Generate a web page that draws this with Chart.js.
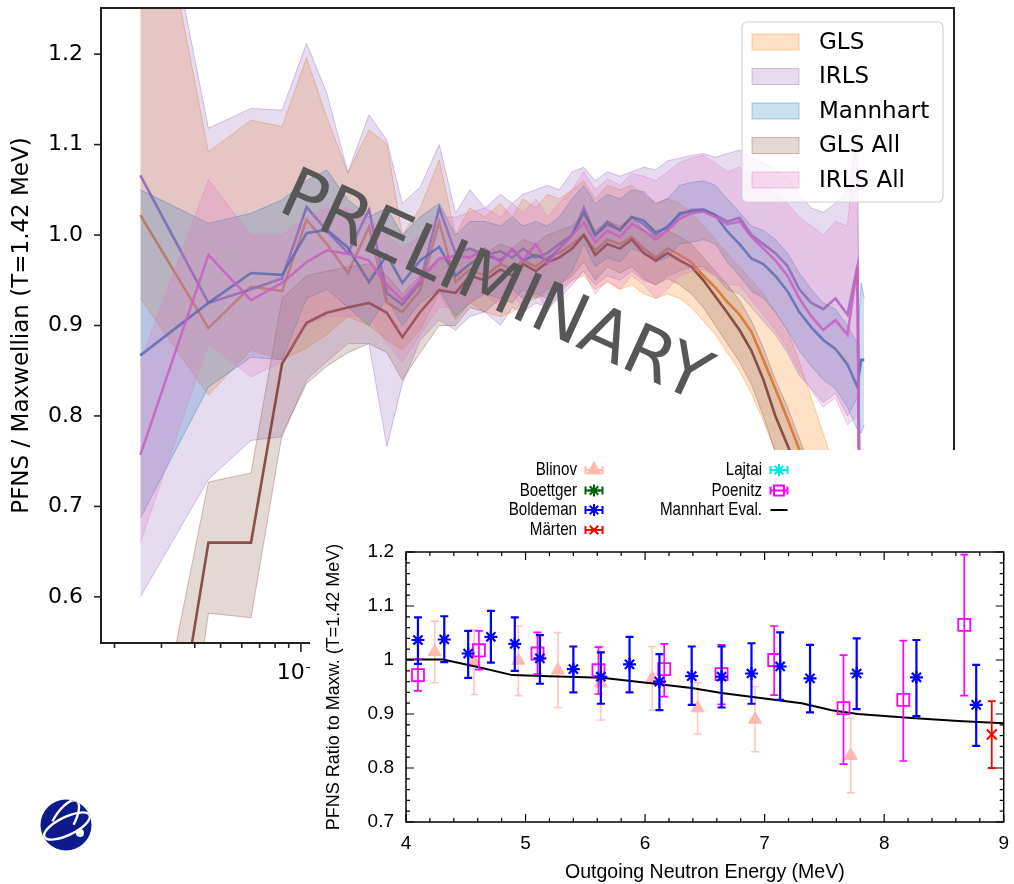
<!DOCTYPE html>
<html>
<head>
<meta charset="utf-8">
<script src="https://cdn.jsdelivr.net/npm/chart.js@4.4.0/dist/chart.umd.min.js"></script>
<style>
  html, body { margin: 0; padding: 0; background: #fff; }
  #wrap { position: relative; width: 1014px; height: 884px; overflow: hidden; }
  #main { position: absolute; left: 0; top: 0; }
  #inset { position: absolute; left: 310px; top: 450px; background: #fff; }
</style>
</head>
<body>
<div id="wrap">
  <canvas id="main" width="1014" height="884"></canvas>
  <canvas id="inset" width="704" height="434"></canvas>
</div>
<script>
// ---- main panel: ratio bands vs energy (MeV, log axis) ----
const energyMeV = [0.025,0.045,0.065,0.085,0.105,0.125,0.15,0.18,0.21,0.24,0.28,0.33,0.38,0.43,0.49,0.56,0.62,0.68,0.76,0.84,0.93,1.04,1.15,1.27,1.41,1.57,1.74,1.93,2.14,2.37,2.63,2.91,3.23,3.58,3.97,4.41,4.89,5.42,6.01,6.67,7.39,8.20,9.09,10.1,11.2,12.2,12.6,12.95];

const glsMid = [1.022,0.897,0.943,0.938,1.017,0.990,0.958,1.009,0.925,0.915, 0.939,1.014,0.948,0.962,0.955,0.968,0.962,0.972,0.965,0.975, 0.980,0.990,1.000,0.983,0.995,0.990,0.998,0.985,0.975,0.985, 0.978,0.970,0.955,0.942,0.926,0.912,0.893,0.862,0.830,0.797, 0.763,0.730,0.690,0.650,0.610,0.580,0.560,0.550];
const glsLo  = [0.930,0.823,0.873,0.862,0.875,0.890,0.910,0.900,0.884,0.873, 0.895,0.936,0.906,0.925,0.915,0.910,0.915,0.925,0.930,0.935, 0.940,0.950,0.955,0.940,0.948,0.940,0.945,0.935,0.930,0.935, 0.930,0.920,0.905,0.890,0.870,0.850,0.825,0.795,0.760,0.725, 0.690,0.655,0.615,0.575,0.535,0.505,0.485,0.475];
const glsHi  = [1.480,1.092,1.127,1.120,1.196,1.130,1.069,1.116,1.101,1.000, 1.030,1.083,1.000,1.030,1.020,1.035,1.020,1.040,1.030,1.045, 1.040,1.050,1.060,1.040,1.055,1.050,1.055,1.045,1.035,1.040, 1.035,1.025,1.010,0.995,0.980,0.965,0.950,0.935,0.915,0.895, 0.860,0.820,0.780,0.740,0.700,0.670,0.650,0.640];

const irlsMid = [1.066,0.925,0.940,0.952,1.031,1.005,0.980,1.028,0.936,0.923, 0.947,1.030,0.980,0.985,0.978,0.982,0.975,0.985,0.975,0.980, 0.990,1.000,1.030,1.000,1.015,1.005,1.020,1.012,1.000,1.010, 1.022,1.028,1.028,1.022,1.015,1.019,1.000,0.990,0.980,0.966, 0.940,0.925,0.918,0.930,0.912,0.965,0.500,0.450];
const irlsLo  = [0.600,0.730,0.773,0.777,0.840,0.860,0.880,0.880,0.766,0.836, 0.884,0.906,0.895,0.910,0.915,0.900,0.920,0.915,0.925,0.920, 0.930,0.945,0.960,0.945,0.955,0.950,0.960,0.950,0.945,0.955, 0.960,0.965,0.965,0.955,0.940,0.935,0.920,0.905,0.890,0.870, 0.845,0.830,0.815,0.825,0.800,0.820,0.400,0.350];
const irlsHi  = [1.500,1.118,1.140,1.138,1.212,1.157,1.069,1.133,1.105,1.035, 1.053,1.100,1.024,1.050,1.030,1.045,1.035,1.045,1.050,1.055, 1.050,1.070,1.075,1.060,1.070,1.065,1.070,1.075,1.072,1.082, 1.085,1.088,1.090,1.086,1.090,1.094,1.085,1.080,1.072,1.065, 1.045,1.030,1.025,1.035,1.050,1.110,0.600,0.550];

const mannMid = [0.867,0.925,0.958,0.956,1.002,1.006,0.986,0.948,0.978,0.947, 0.972,0.987,0.955,0.968,0.978,0.972,0.984,0.972,0.978,0.972, 0.985,1.000,1.025,1.000,1.012,1.006,1.020,1.016,1.003,1.008, 1.024,1.026,1.028,1.022,1.004,0.990,0.974,0.968,0.955,0.938, 0.915,0.898,0.884,0.874,0.857,0.832,0.862,0.862];
const mannLo  = [0.687,0.832,0.865,0.862,0.930,0.940,0.920,0.900,0.930,0.900, 0.925,0.940,0.910,0.925,0.935,0.930,0.940,0.930,0.935,0.930, 0.945,0.960,0.990,0.965,0.975,0.970,0.985,0.980,0.970,0.975, 0.990,0.992,0.995,0.990,0.970,0.955,0.938,0.930,0.915,0.895, 0.872,0.855,0.840,0.830,0.810,0.785,0.781,0.790];
const mannHi  = [1.050,1.013,1.024,1.039,1.060,1.072,1.039,1.020,1.030,1.000, 1.020,1.035,1.000,1.015,1.015,1.010,1.020,1.010,1.015,1.010, 1.020,1.040,1.055,1.035,1.045,1.040,1.050,1.048,1.035,1.040, 1.055,1.058,1.060,1.055,1.040,1.025,1.010,1.005,0.995,0.980, 0.958,0.940,0.925,0.918,0.900,0.880,0.947,0.930];

const glsAllMid = [0.200,0.660,0.660,0.858,0.903,0.914,0.920,0.925,0.914,0.887, 0.915,0.939,0.936,0.955,0.950,0.962,0.955,0.968,0.960,0.970, 0.975,0.985,1.000,0.978,0.990,0.985,0.995,0.980,0.972,0.980, 0.972,0.965,0.950,0.932,0.914,0.895,0.872,0.840,0.800,0.768, 0.735,0.700,0.660,0.620,0.580,0.550,0.530,0.520];
const glsAllLo  = [0.050,0.582,0.577,0.780,0.836,0.855,0.870,0.880,0.870,0.840, 0.870,0.900,0.900,0.920,0.915,0.930,0.925,0.940,0.930,0.940, 0.945,0.955,0.970,0.950,0.965,0.958,0.965,0.952,0.945,0.952, 0.945,0.935,0.920,0.900,0.880,0.860,0.835,0.800,0.760,0.725, 0.690,0.655,0.615,0.575,0.535,0.505,0.485,0.475];
const glsAllHi  = [0.350,0.727,0.737,0.930,0.955,0.960,0.965,0.968,0.955,0.935, 0.955,0.975,0.970,0.985,0.980,0.990,0.985,0.995,0.990,1.000, 1.005,1.010,1.025,1.005,1.015,1.010,1.020,1.005,0.998,1.005, 0.998,0.990,0.975,0.960,0.945,0.928,0.905,0.875,0.840,0.810, 0.775,0.740,0.700,0.660,0.620,0.590,0.570,0.560];

const irlsAllMid = [0.757,0.978,0.928,0.947,0.970,0.983,0.979,0.972,0.945,0.928, 0.950,0.974,0.977,0.975,0.985,0.970,0.985,0.972,0.990,0.968, 0.985,1.000,1.014,0.992,1.005,0.998,1.012,1.005,0.995,1.005, 1.018,1.024,1.026,1.020,1.012,1.015,0.998,0.985,0.972,0.955, 0.930,0.910,0.895,0.906,0.890,0.965,0.500,0.450];
const irlsAllLo  = [0.660,0.880,0.843,0.860,0.900,0.910,0.910,0.910,0.880,0.860, 0.890,0.920,0.920,0.925,0.935,0.920,0.935,0.920,0.940,0.915, 0.935,0.950,0.960,0.935,0.950,0.940,0.955,0.945,0.930,0.940, 0.955,0.960,0.962,0.955,0.945,0.945,0.928,0.912,0.895,0.875, 0.850,0.828,0.810,0.820,0.790,0.800,0.350,0.300];
const irlsAllHi  = [0.860,1.061,1.000,1.000,1.020,1.030,1.030,1.020,1.000,0.985, 1.000,1.020,1.020,1.025,1.030,1.020,1.035,1.025,1.040,1.020, 1.035,1.050,1.070,1.050,1.062,1.055,1.068,1.065,1.060,1.070, 1.080,1.085,1.088,1.080,1.070,1.075,1.065,1.055,1.045,1.035, 1.020,1.010,1.000,1.015,1.010,1.120,0.550,0.500];

const mainTickValues = [0.1, 1, 10];
const mainTickLabels = ['10\u207b\u00b9', '10\u2070', '10\u00b9'];

// ---- inset: experimental ratios 4-9 MeV ----
const blinovE  = [4.24,4.57,4.94,5.27,5.63,6.06,6.44,6.92,7.72];
const blinovV  = [1.015,0.996,0.999,0.981,0.957,0.966,0.911,0.890,0.823];
const blinovLo = [0.958,0.936,0.934,0.912,0.889,0.907,0.863,0.830,0.754];
const blinovHi = [1.072,1.056,1.063,1.051,1.025,1.025,0.958,0.951,0.892];

const boldE  = [4.10,4.32,4.52,4.71,4.91,5.12,5.40,5.63,5.87,6.12,6.39,6.64,6.89,7.13,7.38,7.77,8.27,8.77];
const boldV  = [1.037,1.038,1.012,1.043,1.030,1.003,0.983,0.969,0.992,0.960,0.970,0.969,0.975,0.988,0.966,0.975,0.968,0.917];
const boldLo = [0.993,0.996,0.967,0.995,0.980,0.956,0.940,0.919,0.940,0.907,0.917,0.912,0.919,0.926,0.903,0.909,0.896,0.841];
const boldHi = [1.079,1.081,1.054,1.091,1.079,1.046,1.025,1.014,1.043,1.011,1.025,1.025,1.031,1.051,1.028,1.040,1.037,0.991];

const poenE  = [4.10,4.61,5.10,5.61,6.16,6.64,7.08,7.66,8.16,8.67];
const poenV  = [0.972,1.018,1.012,0.981,0.983,0.974,1.000,0.911,0.926,1.065];
const poenLo = [0.943,0.982,0.974,0.937,0.932,0.918,0.935,0.807,0.813,0.934];
const poenHi = [1.002,1.054,1.051,1.024,1.030,1.028,1.063,1.009,1.036,1.195];

const martenE = [8.90], martenV = [0.862], martenLo = [0.800], martenHi = [0.924];

const evalE = [4.0,4.31,4.6,4.89,5.2,5.64,6.12,6.39,6.64,6.95,7.31,7.56,7.78,8.2,8.62,9.0];
const evalV = [1.001,1.001,0.987,0.972,0.970,0.967,0.955,0.948,0.939,0.930,0.920,0.907,0.900,0.893,0.887,0.883];

const series = [
  { name: 'GLS',      mid: glsMid,     lo: glsLo,     hi: glsHi,     line: 'rgba(240,120,30,0.85)',  band: 'rgba(255,127,14,0.23)',  edge: 'rgba(255,127,14,0.38)' },
  { name: 'IRLS',     mid: irlsMid,    lo: irlsLo,    hi: irlsHi,    line: 'rgba(140,98,180,0.85)',  band: 'rgba(148,103,189,0.23)', edge: 'rgba(148,103,189,0.38)' },
  { name: 'Mannhart', mid: mannMid,    lo: mannLo,    hi: mannHi,    line: 'rgba(50,105,170,0.85)',  band: 'rgba(31,119,180,0.23)',  edge: 'rgba(31,119,180,0.38)' },
  { name: 'GLS All',  mid: glsAllMid,  lo: glsAllLo,  hi: glsAllHi,  line: 'rgba(125,65,55,0.9)',    band: 'rgba(140,86,75,0.23)',   edge: 'rgba(140,86,75,0.38)' },
  { name: 'IRLS All', mid: irlsAllMid, lo: irlsAllLo, hi: irlsAllHi, line: 'rgba(200,95,195,0.85)',  band: 'rgba(227,119,194,0.25)', edge: 'rgba(227,119,194,0.4)' }
];

const xy = (xs, ys) => xs.map((x, i) => ({ x, y: ys[i] }));

const mainSets = [];
series.forEach((s, k) => {
  const ord = 100 - k * 3;
  mainSets.push({ label: s.name + ' lo', data: xy(energyMeV, s.lo), borderColor: s.edge, borderWidth: 1, pointRadius: 0, fill: false, order: ord });
  mainSets.push({ label: s.name + ' hi', data: xy(energyMeV, s.hi), borderColor: s.edge, borderWidth: 1, pointRadius: 0, fill: '-1', backgroundColor: s.band, order: ord - 1 });
  mainSets.push({ label: s.name, data: xy(energyMeV, s.mid), borderColor: s.line, borderWidth: 2.6, pointRadius: 0, fill: false, order: ord - 2 });
});

const mainDecor = {
  id: 'mainDecor',
  afterDraw(chart) {
    const { ctx, chartArea: a, scales: { x, y } } = chart;
    ctx.save();
    ctx.strokeStyle = '#222';
    ctx.lineWidth = 1.6;
    for (let e = -2; e <= 1; e++) {
      for (let m = 1; m <= 9; m++) {
        const v = m * Math.pow(10, e);
        if (v < x.min || v > x.max) continue;
        const px = x.getPixelForValue(v);
        ctx.beginPath();
        ctx.moveTo(px, a.bottom);
        ctx.lineTo(px, a.bottom + (m === 1 ? 9 : 5));
        ctx.stroke();
      }
    }
    y.ticks.forEach(t => {
      const py = y.getPixelForValue(t.value);
      ctx.beginPath();
      ctx.moveTo(a.left, py);
      ctx.lineTo(a.left - 7, py);
      ctx.stroke();
    });
    ctx.lineWidth = 2;
    ctx.strokeRect(a.left, a.top, a.right - a.left, a.bottom - a.top);

    // legend
    ctx.beginPath();
    ctx.roundRect(742, 22, 201, 180, 5);
    ctx.fillStyle = 'rgba(255,255,255,0.8)';
    ctx.fill();
    ctx.strokeStyle = '#d2d2d2';
    ctx.lineWidth = 1.2;
    ctx.stroke();
    ctx.font = '23px "DejaVu Sans"';
    ctx.textBaseline = 'middle';
    series.forEach((s, i) => {
      const ry = 42 + i * 34.5;
      ctx.fillStyle = s.band;
      ctx.fillRect(752, ry - 8, 47, 16);
      ctx.strokeStyle = s.edge;
      ctx.lineWidth = 1;
      ctx.strokeRect(752, ry - 8, 47, 16);
      ctx.fillStyle = '#000';
      ctx.fillText(s.name, 819, ry + 1);
    });

    // watermark
    ctx.save();
    ctx.translate(276, 210);
    ctx.rotate(24.5 * Math.PI / 180);
    ctx.font = '70px "DejaVu Sans"';
    ctx.fillStyle = '#575757';
    ctx.textBaseline = 'alphabetic';
    ctx.fillText('PRELIMINARY', 0, 0);
    ctx.restore();

    // logo
    ctx.save();
    ctx.beginPath();
    ctx.arc(66, 825, 25.5, 0, 2 * Math.PI);
    ctx.fillStyle = '#0c1a8c';
    ctx.fill();
    ctx.clip();
    ctx.strokeStyle = '#fff';
    ctx.lineWidth = 2.4;
    ctx.beginPath();
    ctx.ellipse(67, 826, 25, 9, -0.45, 0, 2 * Math.PI);
    ctx.stroke();
    ctx.beginPath();
    ctx.ellipse(63, 823, 10, 26, 0.55, Math.PI * 0.95, Math.PI * 1.95);
    ctx.stroke();
    ctx.beginPath();
    ctx.arc(80, 833, 4, 0, 2 * Math.PI);
    ctx.fillStyle = '#fff';
    ctx.fill();
    ctx.restore();
    ctx.restore();
  }
};

new Chart(document.getElementById('main'), {
  type: 'line',
  data: { datasets: mainSets },
  options: {
    responsive: false,
    animation: false,
    devicePixelRatio: 1,
    layout: { padding: { left: 0, top: 8, right: 60, bottom: 191 } },
    elements: { line: { tension: 0 } },
    plugins: { legend: { display: false }, tooltip: { enabled: false } },
    scales: {
      x: {
        type: 'logarithmic', min: 0.0178, max: 28.1,
        grid: { display: false, drawTicks: false },
        border: { display: false },
        afterBuildTicks: s => { s.ticks = mainTickValues.map(v => ({ value: v, major: true })); },
        ticks: {
          autoSkip: false, maxRotation: 0, padding: 17, color: '#000',
          font: { family: 'DejaVu Sans', size: 22 },
          callback: v => mainTickLabels[mainTickValues.indexOf(v)] || ''
        },
        afterFit: s => { s.height = 50; s.paddingLeft = 0; s.paddingRight = 0; }
      },
      y: {
        min: 0.549, max: 1.251,
        grid: { display: false, drawTicks: false },
        border: { display: false },
        ticks: {
          stepSize: 0.1, includeBounds: false, padding: 18, color: '#000',
          font: { family: 'DejaVu Sans', size: 22 },
          callback: v => v.toFixed(1)
        },
        title: { display: true, text: 'PFNS / Maxwellian (T=1.42 MeV)', color: '#000',
          font: { family: 'DejaVu Sans', size: 23 }, padding: { top: 8, bottom: 0 } },
        afterFit: s => { s.width = 101; s.paddingTop = 0; s.paddingBottom = 0; }
      }
    }
  },
  plugins: [mainDecor]
});

// ---- inset ----
const insetLegend = [
  { label: 'Blinov',   color: '#ffb8b0', style: 'triangle', r: 7, col: 0, row: 0 },
  { label: 'Boettger', color: '#006400', style: 'star',     r: 6, col: 0, row: 1 },
  { label: 'Boldeman', color: '#0000ff', style: 'star',     r: 6, col: 0, row: 2 },
  { label: 'Märten',   color: '#ff0000', style: 'crossRot', r: 6, col: 0, row: 3 },
  { label: 'Lajtai',   color: '#00e8e8', style: 'star',     r: 6, col: 1, row: 0 },
  { label: 'Poenitz',  color: '#ff00ff', style: 'rect',     r: 7, col: 1, row: 1 },
  { label: 'Mannhart Eval.', color: '#000', style: null,    r: 0, col: 1, row: 2 }
];

function marker(ctx, style, r, w, px, py) {
  if (Chart.helpers && Chart.helpers.drawPoint) {
    Chart.helpers.drawPoint(ctx, { pointStyle: style, radius: r, borderWidth: w, rotation: 0 }, px, py);
  }
}

const insetDecor = {
  id: 'insetDecor',
  beforeDatasetDraw(chart, args) {
    const ds = chart.data.datasets[args.index];
    if (!ds.errLo) return;
    const { ctx, scales: { x, y }, chartArea: a } = chart;
    ctx.save();
    ctx.beginPath();
    ctx.rect(a.left, a.top, a.right - a.left, a.bottom - a.top);
    ctx.clip();
    ctx.strokeStyle = ds.errColor || ds.borderColor;
    ctx.lineWidth = ds.errWidth;
    ds.data.forEach((p, i) => {
      const px = x.getPixelForValue(p.x);
      const y0 = y.getPixelForValue(ds.errLo[i]);
      const y1 = y.getPixelForValue(ds.errHi[i]);
      ctx.beginPath();
      ctx.moveTo(px, y0); ctx.lineTo(px, y1);
      ctx.moveTo(px - 4, y0); ctx.lineTo(px + 4, y0);
      ctx.moveTo(px - 4, y1); ctx.lineTo(px + 4, y1);
      ctx.stroke();
    });
    ctx.restore();
  },
  afterDraw(chart) {
    const { ctx, chartArea: a, scales: { x, y } } = chart;
    ctx.save();
    ctx.strokeStyle = '#000';
    ctx.lineWidth = 1.2;
    for (let i = 0; i <= 25; i++) {
      const v = 4 + i * 0.2;
      const px = x.getPixelForValue(v);
      const len = i % 5 === 0 ? 8 : 4;
      ctx.beginPath();
      ctx.moveTo(px, a.bottom); ctx.lineTo(px, a.bottom - len);
      ctx.moveTo(px, a.top); ctx.lineTo(px, a.top + len);
      ctx.stroke();
    }
    for (let i = 0; i <= 25; i++) {
      const v = 0.7 + i * 0.02;
      const py = y.getPixelForValue(v);
      const len = i % 5 === 0 ? 8 : 4;
      ctx.beginPath();
      ctx.moveTo(a.left, py); ctx.lineTo(a.left + len, py);
      ctx.moveTo(a.right, py); ctx.lineTo(a.right - len, py);
      ctx.stroke();
    }
    ctx.lineWidth = 1.5;
    ctx.strokeRect(a.left, a.top, a.right - a.left, a.bottom - a.top);

    // legend (gnuplot-style condensed labels)
    const labelX = [267, 452], symX = [284, 469], rowY = [20, 40.5, 60, 80];
    insetLegend.forEach(it => {
      const ly = rowY[it.row], cx = symX[it.col];
      ctx.save();
      ctx.translate(labelX[it.col], ly);
      ctx.scale(0.82, 1);
      ctx.font = '18.5px "Liberation Sans"';
      ctx.textAlign = 'right';
      ctx.textBaseline = 'middle';
      ctx.fillStyle = '#000';
      ctx.fillText(it.label, 0, 0);
      ctx.restore();
      ctx.strokeStyle = it.color;
      ctx.lineWidth = 2;
      ctx.beginPath();
      ctx.moveTo(cx - 8.5, ly); ctx.lineTo(cx + 8.5, ly);
      if (it.style) {
        ctx.moveTo(cx - 8.5, ly - 4); ctx.lineTo(cx - 8.5, ly + 4);
        ctx.moveTo(cx + 8.5, ly - 4); ctx.lineTo(cx + 8.5, ly + 4);
      }
      ctx.stroke();
      if (it.style) {
        ctx.fillStyle = it.style === 'rect' ? 'rgba(0,0,0,0)' : it.color;
        marker(ctx, it.style, it.r, 2, cx, ly);
      }
    });
    ctx.restore();
  }
};

new Chart(document.getElementById('inset'), {
  type: 'scatter',
  data: {
    datasets: [
      { label: 'Märten', data: xy(martenE, martenV), errLo: martenLo, errHi: martenHi, errWidth: 1.8,
        pointStyle: 'crossRot', pointRadius: 7, borderColor: '#ff0000', borderWidth: 2, backgroundColor: '#ff0000' },
      { label: 'Boldeman', data: xy(boldE, boldV), errLo: boldLo, errHi: boldHi, errWidth: 2.2,
        pointStyle: 'star', pointRadius: 6.5, borderColor: '#0000ff', borderWidth: 2.2, backgroundColor: '#0000ff' },
      { label: 'Poenitz', data: xy(poenE, poenV), errLo: poenLo, errHi: poenHi, errWidth: 1.7,
        pointStyle: 'rect', pointRadius: 8.5, borderColor: '#ff00ff', borderWidth: 1.8, backgroundColor: 'rgba(0,0,0,0)' },
      { label: 'Mannhart Eval.', data: xy(evalE, evalV), showLine: true, pointRadius: 0,
        borderColor: '#000', borderWidth: 2, tension: 0 },
      { label: 'Blinov', data: xy(blinovE, blinovV), errLo: blinovLo, errHi: blinovHi, errWidth: 1.6, errColor: '#ffc6c2',
        pointStyle: 'triangle', pointRadius: 7.5, borderColor: '#ffb8b0', borderWidth: 1, backgroundColor: '#ffb8b0' },
      { label: 'Boettger', data: [], pointStyle: 'star', borderColor: '#006400' },
      { label: 'Lajtai', data: [], pointStyle: 'star', borderColor: '#00e8e8' }
    ]
  },
  options: {
    responsive: false,
    animation: false,
    devicePixelRatio: 1,
    layout: { padding: { left: 0, top: 102, right: 9, bottom: 0 } },
    plugins: { legend: { display: false }, tooltip: { enabled: false } },
    scales: {
      x: {
        type: 'linear', min: 4, max: 9,
        grid: { display: false, drawTicks: false },
        border: { display: false },
        ticks: { stepSize: 1, padding: 10, color: '#000', font: { family: 'Liberation Sans', size: 19 } },
        title: { display: true, text: 'Outgoing Neutron Energy (MeV)', color: '#000',
          font: { family: 'Liberation Sans', size: 19.5 }, padding: { top: 0, bottom: 0 } },
        afterFit: s => { s.height = 62; s.paddingLeft = 0; s.paddingRight = 0; }
      },
      y: {
        type: 'linear', min: 0.7, max: 1.2,
        grid: { display: false, drawTicks: false },
        border: { display: false },
        ticks: { stepSize: 0.1, padding: 12, color: '#000', font: { family: 'Liberation Sans', size: 19 },
          callback: v => Math.abs(v - 1) < 1e-9 ? '1' : v.toFixed(1) },
        title: { display: true, text: 'PFNS Ratio to Maxw. (T=1.42 MeV)', color: '#000',
          font: { family: 'Liberation Sans', size: 18 }, padding: { top: 13, bottom: 0 } },
        afterFit: s => { s.width = 96; s.paddingTop = 0; s.paddingBottom = 0; }
      }
    }
  },
  plugins: [insetDecor]
});
</script>
</body>
</html>
